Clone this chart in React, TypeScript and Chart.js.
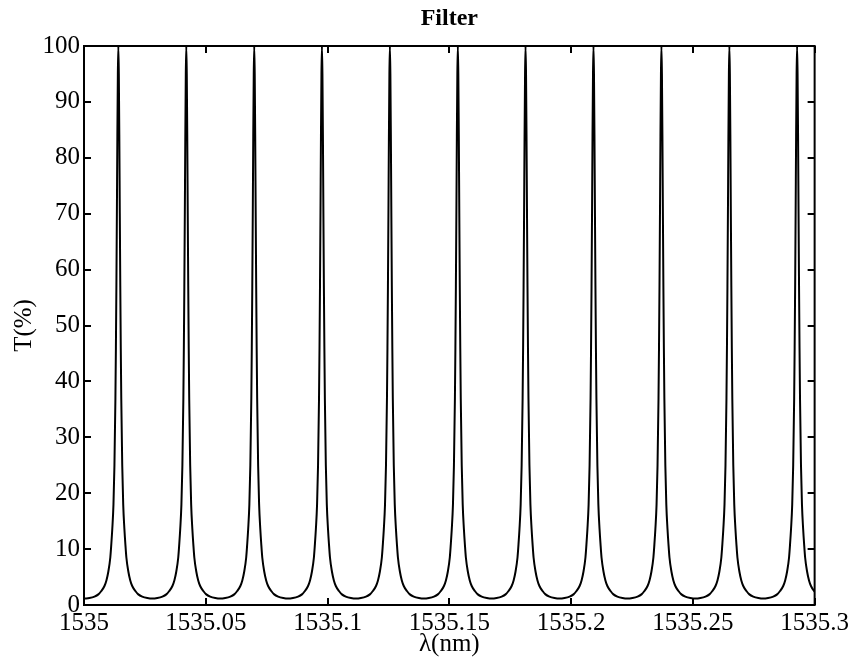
import React, { useEffect, useRef } from 'react';
import { Chart, registerables } from 'chart.js';

Chart.register(...registerables);

// Peak centres (nm)
const peakCenters = [
  1535.0141, 1535.042, 1535.0699, 1535.0977, 1535.1256, 1535.1535,
  1535.1813, 1535.2092, 1535.2371, 1535.265, 1535.2928,
];
// One-sided profile of a peak: distance from centre (nm) and T (%)
const profileOffsets = [
  0, 0.0002, 0.0004, 0.0006, 0.0008, 0.001, 0.0012, 0.0016, 0.002, 0.0025,
  0.0029, 0.0033, 0.0041, 0.0049, 0.0057, 0.007, 0.0082, 0.0098, 0.0119, 0.0139,
];
const profileValues = [
  100, 95, 84, 70, 57, 46, 37, 25, 18, 13.5,
  10.8, 8.5, 6, 4.4, 3.4, 2.5, 1.9, 1.5, 1.25, 1.15,
];

const xTickValues = [1535, 1535.05, 1535.1, 1535.15, 1535.2, 1535.25, 1535.3];
const xTickLabels = ['1535', '1535.05', '1535.1', '1535.15', '1535.2', '1535.25', '1535.3'];
const yTickValues = [0, 10, 20, 30, 40, 50, 60, 70, 80, 90, 100];
const yTickLabels = ['0', '10', '20', '30', '40', '50', '60', '70', '80', '90', '100'];

const chartTitle = 'Filter';
const xTitle = 'λ(nm)';
const yTitle = 'T(%)';

function buildPoints() {
  const pts: { x: number; y: number }[] = [];
  peakCenters.forEach((c) => {
    for (let i = profileOffsets.length - 1; i >= 1; i--) {
      pts.push({ x: c - profileOffsets[i], y: profileValues[i] });
    }
    pts.push({ x: c, y: profileValues[0] });
    for (let i = 1; i < profileOffsets.length; i++) {
      pts.push({ x: c + profileOffsets[i], y: profileValues[i] });
    }
  });
  return pts;
}

const FONT = "'Liberation Serif', 'Times New Roman', serif";

const framePlugin = {
  id: 'frameTicks',
  afterDatasetsDraw(chart: any) {
    const { ctx, chartArea } = chart;
    const { left, right, top, bottom } = chartArea;
    const xs = chart.scales.x;
    const ys = chart.scales.y;
    const tl = 7;
    ctx.save();
    ctx.strokeStyle = '#000';
    ctx.lineWidth = 2;
    ctx.beginPath();
    xTickValues.forEach((v) => {
      const px = Math.round(xs.getPixelForValue(v));
      ctx.moveTo(px, bottom);
      ctx.lineTo(px, bottom - tl);
      ctx.moveTo(px, top);
      ctx.lineTo(px, top + tl);
    });
    yTickValues.forEach((v) => {
      const py = Math.round(ys.getPixelForValue(v));
      ctx.moveTo(left, py);
      ctx.lineTo(left + tl, py);
      ctx.moveTo(right, py);
      ctx.lineTo(right - tl, py);
    });
    ctx.stroke();
    ctx.strokeRect(left, top, right - left, bottom - top);
    ctx.restore();
  },
  afterDraw(chart: any) {
    const { ctx, chartArea } = chart;
    ctx.save();
    ctx.fillStyle = '#000';
    ctx.font = `bold 24px ${FONT}`;
    ctx.textAlign = 'center';
    ctx.textBaseline = 'alphabetic';
    ctx.fillText(chartTitle, (chartArea.left + chartArea.right) / 2, 25);
    ctx.restore();
  },
};

export default function App() {
  const ref = useRef<HTMLCanvasElement>(null);

  useEffect(() => {
    if (!ref.current) return;
    Chart.defaults.font.family = FONT;
    const chart = new Chart(ref.current, {
      type: 'line',
      data: {
        datasets: [
          {
            data: buildPoints(),
            borderColor: '#000',
            borderWidth: 2,
            pointRadius: 0,
            cubicInterpolationMode: 'monotone',
            fill: false,
          },
        ],
      },
      options: {
        animation: false,
        responsive: false,
        devicePixelRatio: 1,
        parsing: false,
        layout: { padding: { left: 0, right: 36, top: 46, bottom: 0 } },
        plugins: {
          legend: { display: false },
          tooltip: { enabled: false },
          title: { display: false },
        },
        scales: {
          x: {
            type: 'linear',
            min: 1535,
            max: 1535.3,
            afterBuildTicks: (s: any) => {
              s.ticks = xTickValues.map((v) => ({ value: v }));
            },
            afterFit: (s: any) => {
              s.height = 54;
            },
            ticks: {
              autoSkip: false,
              maxRotation: 0,
              minRotation: 0,
              padding: 3,
              color: '#000',
              font: { size: 25, family: FONT },
              callback: (_v: any, i: number) => xTickLabels[i],
            },
            grid: { display: false, drawTicks: false },
            border: { display: false },
            title: {
              display: true,
              text: xTitle,
              color: '#000',
              font: { size: 25, family: FONT },
              padding: { top: 0, bottom: 0 },
            },
          },
          y: {
            type: 'linear',
            min: 0,
            max: 100,
            afterBuildTicks: (s: any) => {
              s.ticks = yTickValues.map((v) => ({ value: v }));
            },
            afterFit: (s: any) => {
              s.width = 84;
            },
            ticks: {
              autoSkip: false,
              padding: 4,
              color: '#000',
              font: { size: 25, family: FONT },
              callback: (_v: any, i: number) => yTickLabels[i],
            },
            grid: { display: false, drawTicks: false },
            border: { display: false },
            title: {
              display: true,
              text: yTitle,
              color: '#000',
              font: { size: 25, family: FONT },
              padding: { top: 9, bottom: 0 },
            },
          },
        },
      },
      plugins: [framePlugin],
    } as any);
    return () => chart.destroy();
  }, []);

  return (
    <div style={{ position: 'fixed', left: 0, top: 0, width: 852, height: 659, background: '#fff' }}>
      <canvas ref={ref} width={852} height={659} style={{ display: 'block' }} />
    </div>
  );
}
